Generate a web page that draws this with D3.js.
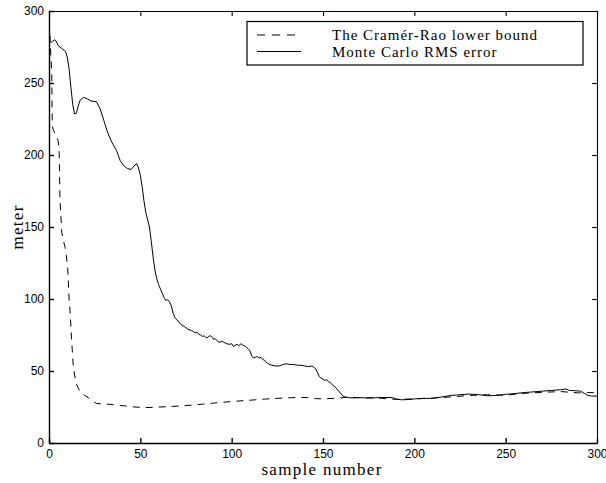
<!DOCTYPE html>
<html>
  <head>
    <meta charset="UTF-8">
    <style>
      body {
        margin: 0;
        background: white;
      }

      .tick text {
        font-family: "Liberation Sans", Helvetica, Arial, sans-serif;
        font-size: 12px;
      }

      .label {
        font-family: "Liberation Serif", "Times New Roman", serif;
      }
    </style>
    <script type="text/javascript" src="https://cdn.jsdelivr.net/npm/d3@7"></script>
  </head>

  <body>
    <svg id="Chart"></svg>

    <script type="text/javascript">
      // Monte Carlo RMS error (solid)
      let rmsSamples = [1, 2, 3, 4, 5, 7, 9, 10, 11, 12, 13, 14, 15, 16, 17, 19, 21, 23, 26, 28, 30, 32, 34, 35, 37, 39, 41, 43, 45, 47, 48, 49, 50, 51, 52, 53, 55, 56, 57, 58, 59, 60, 61, 62, 63, 64, 65, 66, 67, 68, 69, 70, 72, 74, 76, 78, 79, 80, 81, 82, 83, 84, 85, 86, 87, 88, 89, 90, 91, 92, 93, 95, 97, 99, 100, 101, 102, 103, 104, 105, 106, 107, 108, 109, 110, 111, 112, 113, 114, 115, 116, 117, 118, 119, 120, 122, 124, 126, 128, 130, 132, 134, 136, 138, 140, 142, 144, 145, 146, 147, 148, 149, 150, 151, 152, 153, 154, 155, 156, 157, 158, 159, 160, 161, 162, 164, 166, 170, 175, 180, 185, 188, 190, 193, 197, 200, 205, 210, 215, 220, 225, 230, 235, 240, 245, 250, 255, 260, 265, 270, 275, 280, 283, 285, 288, 291, 293, 295, 297, 300];
      let rmsValues = [278, 279, 280, 279, 276, 274, 272, 268, 260, 247, 235, 228.5, 229, 234, 238, 240, 239, 237.5, 237, 232, 224, 216, 210, 207.5, 203, 196, 192.5, 190.5, 190, 193, 194, 191, 186, 178, 168, 160, 150, 140, 129, 120, 114, 110, 107, 104, 101, 99, 99.5, 98, 95, 90, 87, 85.5, 82.5, 81, 79, 78, 77.5, 76.5, 77, 75.5, 75, 74, 74.5, 73, 73.5, 74.5, 74, 72, 72.5, 71, 70, 70.5, 69, 68.5, 69, 67, 68, 68.5, 67.5, 69, 68, 67.5, 66.5, 65.5, 64, 60.5, 59, 59.5, 60, 59, 59.5, 58, 57.5, 56, 55, 54, 53.5, 53.5, 54.5, 55, 54.5, 54.5, 54, 54, 53.5, 53, 53.5, 52.5, 51.5, 49, 46, 45, 44.5, 43.5, 44, 42.5, 42, 40.5, 39.5, 38.5, 37, 35.5, 34, 32.5, 32, 31.5, 31.3, 31.5, 31.2, 31.5, 31.6, 31.5, 30.5, 30, 30.2, 30.6, 31, 31, 32, 33, 33.5, 34, 33.6, 32.8, 33, 33.8, 34.3, 35, 35.5, 36, 36.5, 37, 37.5, 36.5, 36.3, 36, 34.5, 33, 32.6, 32.6];

      // Cramer-Rao lower bound (dashed)
      let crlbSamples = [0.5, 1, 1.5, 1.8, 2.5, 3.3, 4.3, 5, 5.6, 6, 7, 8, 8.8, 9.5, 10.2, 11, 11.5, 12.4, 13.3, 14.8, 17, 19, 21.5, 24, 26, 30, 33, 37, 42, 47, 52, 58, 64, 72, 80, 90, 100, 110, 118, 128, 137, 142, 146, 150, 156, 163, 170, 180, 190, 200, 210, 220, 230, 240, 250, 260, 270, 280, 285, 290, 295, 300];
      let crlbValues = [283, 270, 257, 220, 217, 215, 212, 210, 201, 169, 146, 140, 136, 130, 122.5, 100, 92, 71.5, 53, 41.4, 35.6, 33.5, 31.5, 29, 27.5, 27, 26.9, 26.3, 25.7, 25, 24.6, 24.8, 25.2, 25.7, 26.5, 27.7, 28.8, 29.7, 30.5, 31.2, 31.7, 31.5, 30.8, 30.7, 31, 31.7, 31.5, 31.3, 30.3, 30.6, 31.2, 32, 33, 33.5, 33.2, 34.5, 35.2, 35.7, 35.3, 34.8, 35, 35];

      let xTicks = [0, 50, 100, 150, 200, 250, 300];
      let yTicks = [0, 50, 100, 150, 200, 250, 300];
      let legendLabels = ['The Cram\u00e9r-Rao lower bound', 'Monte Carlo RMS error'];
      let xLabel = 'sample number';
      let yLabel = 'meter';

      function getConfig() {
        let width = 606;
        let height = 483;
        let margin = {top: 11, bottom: 40, left: 49, right: 9};
        let bodyWidth = width - margin.left - margin.right;
        let bodyHeight = height - margin.top - margin.bottom;
        let container = d3.select('#Chart')
          .attr('width', width)
          .attr('height', height)
        return {width, height, margin, bodyWidth, bodyHeight, container}
      }

      function getScales(config) {
        let xScale = d3.scaleLinear()
          .domain([0, 300])
          .range([config.margin.left, config.margin.left + config.bodyWidth])
        let yScale = d3.scaleLinear()
          .domain([0, 300])
          .range([config.margin.top + config.bodyHeight, config.margin.top])
        return {xScale, yScale}
      }

      function drawAxes(scales, config) {
        let {xScale, yScale} = scales;
        let {container, margin, bodyWidth, bodyHeight} = config;
        let bottom = margin.top + bodyHeight;
        let right = margin.left + bodyWidth;

        let axes = [
          [d3.axisBottom(xScale).tickValues(xTicks).tickPadding(6), `translate(0,${bottom})`, true],
          [d3.axisLeft(yScale).tickValues(yTicks).tickPadding(5), `translate(${margin.left},0)`, true],
          [d3.axisTop(xScale).tickValues(xTicks), `translate(0,${margin.top})`, false],
          [d3.axisRight(yScale).tickValues(yTicks), `translate(${right},0)`, false]
        ];

        axes.forEach(([axis, transform, labels]) => {
          axis.tickSizeInner(-5).tickSizeOuter(0);
          if (!labels) axis.tickFormat('');
          let g = container.append('g')
            .attr('transform', transform)
            .call(axis)
          g.selectAll('path, line').attr('stroke', '#000').attr('stroke-width', labels ? 1.4 : 1.1)
          g.selectAll('text').attr('fill', '#000')
        });
      }

      function drawLines(scales, config) {
        let {xScale, yScale} = scales;
        let line = d3.line()
          .x(d => xScale(d[0]))
          .y(d => yScale(d[1]))

        let crlb = crlbSamples.map((s, i) => [s, crlbValues[i]]);
        let rms = rmsSamples.map((s, i) => [s, rmsValues[i]]);

        config.container.append('path')
          .datum(crlb)
          .attr('d', line)
          .attr('fill', 'none')
          .attr('stroke', '#000')
          .attr('stroke-width', 1)
          .attr('stroke-dasharray', '7,6')

        config.container.append('path')
          .datum(rms)
          .attr('d', line)
          .attr('fill', 'none')
          .attr('stroke', '#000')
          .attr('stroke-width', 1)
      }

      function drawLabels(config) {
        let {container, margin, bodyWidth, bodyHeight} = config;
        container.append('text')
          .attr('class', 'label')
          .attr('x', margin.left + bodyWidth / 2 - 1)
          .attr('y', 475)
          .attr('text-anchor', 'middle')
          .style('font-size', '17px')
          .style('letter-spacing', '1.3px')
          .text(xLabel)

        container.append('text')
          .attr('class', 'label')
          .attr('transform', `translate(23,${margin.top + bodyHeight / 2}) rotate(-90)`)
          .attr('text-anchor', 'middle')
          .style('font-size', '17px')
          .style('letter-spacing', '1.3px')
          .text(yLabel)
      }

      function drawLegend(config) {
        let {container} = config;
        let legend = container.append('g')

        legend.append('rect')
          .attr('x', 247)
          .attr('y', 21.5)
          .attr('width', 336)
          .attr('height', 43.5)
          .attr('fill', 'white')
          .attr('stroke', '#000')
          .attr('stroke-width', 1.2)

        let styles = ['8,7', null];
        let ends = [295, 301];
        let rows = [35, 51.5];
        legendLabels.forEach((label, i) => {
          legend.append('line')
            .attr('x1', 257)
            .attr('x2', ends[i])
            .attr('y1', rows[i])
            .attr('y2', rows[i])
            .attr('stroke', '#000')
            .attr('stroke-width', 1)
            .attr('stroke-dasharray', styles[i])

          legend.append('text')
            .attr('class', 'label')
            .attr('x', 332)
            .attr('y', rows[i] + 5)
            .style('font-size', '15px')
            .style('letter-spacing', '1px')
            .text(label)
        });
      }

      function showChart() {
        let config = getConfig();
        let scales = getScales(config);
        drawLines(scales, config);
        drawLegend(config);
        drawAxes(scales, config);
        drawLabels(config);
      }

      showChart();
    </script>
  </body>
</html>
